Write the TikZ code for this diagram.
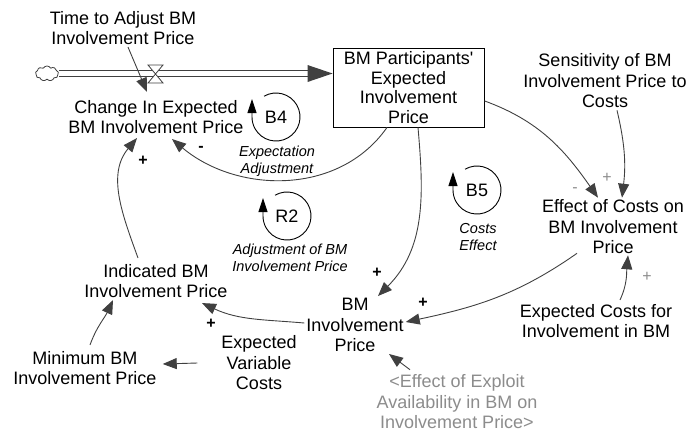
\documentclass[tikz,border=0pt]{standalone}
\usepackage{fontspec}
\setmainfont{Liberation Sans}
\usepackage{tikz}
\usetikzlibrary{arrows.meta}
\usetikzlibrary{shapes.symbols}

\definecolor{linkgray}{HTML}{404040}
\definecolor{shadowgray}{HTML}{8C8C8C}

\begin{document}
\begin{tikzpicture}[x=1pt,y=1pt,
  var/.style={align=center,inner sep=2pt,font=\fontsize{18}{20.5}\selectfont},
  loopname/.style={align=center,inner sep=1pt,font=\fontsize{14.5}{17.5}\selectfont\itshape},
  link/.style={draw=linkgray,line width=0.9pt,-{Triangle[length=14pt,width=11pt]},shorten >=0pt},
  loopline/.style={draw=black,line width=0.9pt,-{Triangle[length=14pt,width=9pt]}},
  pol/.style={inner sep=0pt,font=\fontsize{16}{16}\selectfont\bfseries},
  polg/.style={inner sep=0pt,text=shadowgray,font=\fontsize{16}{16}\selectfont}]
\useasboundingbox (0,0) rectangle (690,-432);

% stock and its inflow
\node[var,draw,line width=0.9pt,minimum width=151pt,minimum height=79pt,
  font=\fontsize{18}{19.5}\selectfont] (bmpe) at (408.5,-87.5)
  {BM Participants\textquotesingle\\Expected\\Involvement\\Price};
\node[cloud,draw=linkgray,line width=0.8pt,cloud puffs=9,cloud puff arc=120,
  cloud ignores aspect,minimum width=23pt,minimum height=15pt,inner sep=0pt] (src) at (47,-73.5) {};
\coordinate (pend) at (bmpe.west |- src.east);
\draw[draw=linkgray,double=white,double distance=4.5pt,line width=0.9pt] (src.east) -- ([xshift=-20pt]pend);
\fill[linkgray] (pend) -- ++(-25,8.5) -- ++(0,-17) -- cycle;
\node[inner sep=0pt,minimum size=18pt] (valve) at (155.5,-74) {};
\filldraw[fill=white,draw=linkgray,line width=0.8pt] (valve.center) ++(-7.5,9) -- ++(15,0) -- ++(-15,-18) -- ++(15,0) -- cycle;

% variables
\node[var] (tadj) at (123,-28) {Time to Adjust BM\\Involvement Price};
\node[var] (chg) at (156,-117) {Change In Expected\\BM Involvement Price};
\node[var] (sens) at (605,-81) {Sensitivity of BM\\Involvement Price to\\Costs};
\node[var] (eff) at (613,-227) {Effect of Costs on\\BM Involvement\\Price};
\node[var] (ind) at (156,-281) {Indicated BM\\Involvement Price};
\node[var] (bmip) at (355,-325) {BM\\Involvement\\Price};
\node[var] (ecost) at (596,-321) {Expected Costs for\\Involvement in BM};
\node[var] (minp) at (85,-368) {Minimum BM\\Involvement Price};
\node[var] (evc) at (259,-363) {Expected\\Variable\\Costs};
\node[var,text=shadowgray] (eea) at (457,-402) {<Effect of Exploit\\Availability in BM on\\Involvement Price>};

% links
\draw[link] ([xshift=5pt]tadj.south) -- ([xshift=-9pt,yshift=6pt]chg.north);
\draw[link] ([xshift=-21.5pt]bmpe.south) to[out=-125,in=-40] ([xshift=16pt,yshift=-3pt]chg.south);
\draw[link] ([xshift=-18pt,yshift=4pt]ind.north) to[out=110,in=-130] ([xshift=-19pt,yshift=-2pt]chg.south);
\draw[link] ([xshift=9.5pt]bmpe.south) to[out=-85,in=45] ([xshift=23pt]bmip.north);
\draw[link] (bmpe.-10) to[out=-20,in=125] ([xshift=-15pt]eff.north);
\draw[link] ([xshift=12pt]sens.south) to[bend left=10] ([xshift=9pt]eff.north);
\draw[link] ([xshift=-36pt,yshift=3pt]eff.south) to[out=-145,in=12] ([yshift=3pt]bmip.east);
\draw[link] ([xshift=24pt,yshift=2pt]ecost.north) to[out=65,in=-95] ([xshift=15pt,yshift=1pt]eff.south);
\draw[link] ([yshift=2pt]bmip.west) to[out=175,in=-25] ([xshift=46pt,yshift=-3pt]ind.south);
\draw[link] ([xshift=5pt,yshift=4pt]minp.north) to[out=70,in=-115] ([xshift=-43pt]ind.south);
\draw[link] ([xshift=-22pt]evc.west) -- ([xshift=4pt,yshift=4pt]minp.east);
\draw[link] ([xshift=-47pt,yshift=3pt]eea.north) -- ([xshift=34pt]bmip.south);

% polarities
\node[pol] (sadj) at (201,-149) {-};
\node[pol] (sind) at (143,-161) {+};
\node[pol] (sbox) at (377,-273) {+};
\node[pol] (seff) at (423,-303) {+};
\node[pol] (sbmip) at (211,-324) {+};
\node[polg] (scost) at (575,-190) {-};
\node[polg] (ssens) at (607,-178) {+};
\node[polg] (secost) at (647,-277) {+};

% loops
\node[var] (b4) at (276,-117) {B4};
\draw[loopline] (b4.center) ++(120:24) arc[start angle=120,end angle=-180,radius=24] -- ++(0,18);
\node[loopname] (b4name) at (277,-161) {Expectation\\Adjustment};
\node[var] (r2) at (287,-216) {R2};
\draw[loopline] (r2.center) ++(120:24) arc[start angle=120,end angle=-180,radius=24] -- ++(0,18);
\node[loopname] (r2name) at (290,-258) {Adjustment of BM\\Involvement Price};
\node[var] (b5) at (477,-190) {B5};
\draw[loopline] (b5.center) ++(120:24) arc[start angle=120,end angle=-180,radius=24] -- ++(0,18);
\node[loopname] (b5name) at (478,-237) {Costs\\Effect};
\end{tikzpicture}
\end{document}
